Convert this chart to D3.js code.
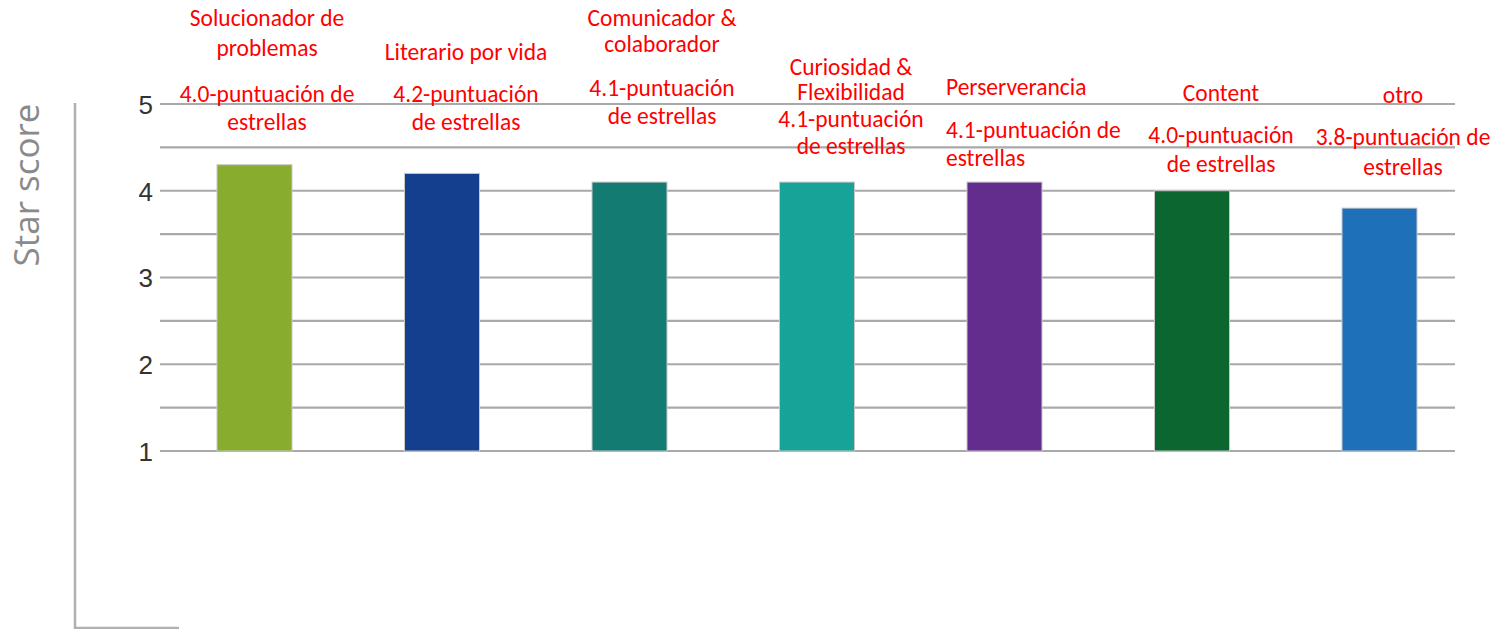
<!DOCTYPE html>
<html>
<head>
<meta charset="utf-8">
<script src="https://cdn.jsdelivr.net/npm/d3@7"></script>
<style>
  body { margin: 0; background: #fff; }
  svg { display: block; }
</style>
</head>
<body>
<svg id="chart" width="1503" height="629"></svg>
<script>
// 数据
const categories = ['Solucionador de problemas', 'Literario por vida', 'Comunicador & colaborador',
    'Curiosidad & Flexibilidad', 'Perserverancia', 'Content', 'otro'];
const barValues = [4.3, 4.2, 4.1, 4.1, 4.1, 4.0, 3.8];
const scoreLabels = ['4.0', '4.2', '4.1', '4.1', '4.1', '4.0', '3.8'];
const barColors = ['#87ac2e', '#143f8f', '#147b73', '#17a398', '#632d8e', '#0b6630', '#1e71b8'];
const yTicks = [1, 2, 3, 4, 5];
const gridValues = [1, 1.5, 2, 2.5, 3, 3.5, 4, 4.5, 5];

// 标注的文字行 (按原图换行)
const labelLines = [
    ['Solucionador de', 'problemas', scoreLabels[0] + '-puntuación de', 'estrellas'],
    ['Literario por vida', scoreLabels[1] + '-puntuación', 'de estrellas'],
    ['Comunicador &', 'colaborador', scoreLabels[2] + '-puntuación', 'de estrellas'],
    ['Curiosidad &', 'Flexibilidad', scoreLabels[3] + '-puntuación', 'de estrellas'],
    ['Perserverancia', scoreLabels[4] + '-puntuación de', 'estrellas'],
    ['Content', scoreLabels[5] + '-puntuación', 'de estrellas'],
    ['otro', scoreLabels[6] + '-puntuación de', 'estrellas']
];
// 标注位置 (布局)
const labelLayout = [
    {x: 267, anchor: 'middle', ys: [18, 48, 94, 122]},
    {x: 466, anchor: 'middle', ys: [52, 94, 122]},
    {x: 662, anchor: 'middle', ys: [18, 44, 88, 116]},
    {x: 851, anchor: 'middle', ys: [67, 92, 119, 146]},
    {x: 946, anchor: 'start', ys: [87, 130, 158]},
    {x: 1221, anchor: 'middle', ys: [93, 135, 164]},
    {x: 1403, anchor: 'middle', ys: [95, 137, 167]}
];

function draw_chart() {
    let svg = d3.select('#chart');

    // 比例尺
    let y = d3.scaleLinear()
        .domain([1, 5])
        .range([451, 104]);
    let x = d3.scaleBand()
        .domain(categories)
        .range([160.75, 1473.25])
        .paddingInner(0.6)
        .paddingOuter(0.3);

    // 左边的轴线
    svg.append('path')
        .attr('d', 'M75,103 L75,628 L179,628')
        .attr('fill', 'none')
        .attr('stroke', '#b0b0b0')
        .attr('stroke-width', 2.5);

    // 网格线
    svg.selectAll('.grid')
        .data(gridValues)
        .enter()
        .append('line')
        .attr('class', 'grid')
        .attr('x1', 160)
        .attr('x2', 1455)
        .attr('y1', d => y(d))
        .attr('y2', d => y(d))
        .attr('stroke', '#a9a9a9')
        .attr('stroke-width', 2.2);

    // 刻度文字
    let axis = d3.axisLeft(y)
        .tickValues(yTicks)
        .tickFormat(d3.format('d'))
        .tickSize(0)
        .tickPadding(0);
    let gAxis = svg.append('g')
        .attr('transform', 'translate(153,0)')
        .call(axis);
    gAxis.select('.domain').remove();
    gAxis.selectAll('text')
        .attr('font-family', 'Liberation Sans, Arial, sans-serif')
        .attr('font-size', 26)
        .attr('fill', '#333')
        .attr('dy', '0.36em');

    // 轴标题
    svg.append('text')
        .attr('transform', 'translate(25,185) rotate(-90)')
        .attr('text-anchor', 'middle')
        .attr('dominant-baseline', 'central')
        .attr('font-family', 'Open Sans, sans-serif')
        .attr('font-size', 35)
        .attr('fill', '#8a8a8a')
        .text('Star score');

    // 柱子
    svg.selectAll('.bar')
        .data(barValues)
        .enter()
        .append('rect')
        .attr('class', 'bar')
        .attr('x', (d, i) => x(categories[i]))
        .attr('y', d => y(d))
        .attr('width', x.bandwidth())
        .attr('height', d => y(1) - y(d))
        .attr('fill', (d, i) => barColors[i])
        .attr('stroke', '#c8c8c8')
        .attr('stroke-width', 1);

    // 红色标注
    labelLines.forEach(function (lines, i) {
        let lay = labelLayout[i];
        let g = svg.append('g').attr('class', 'label');
        lines.forEach(function (line, j) {
            g.append('text')
                .attr('x', lay.x)
                .attr('y', lay.ys[j])
                .attr('text-anchor', lay.anchor)
                .attr('dominant-baseline', 'central')
                .attr('font-family', 'Carlito, Lato, sans-serif')
                .attr('font-size', 23.5)
                .attr('fill', '#ff0000')
                .text(line);
        });
    });
}

draw_chart();
</script>
</body>
</html>
